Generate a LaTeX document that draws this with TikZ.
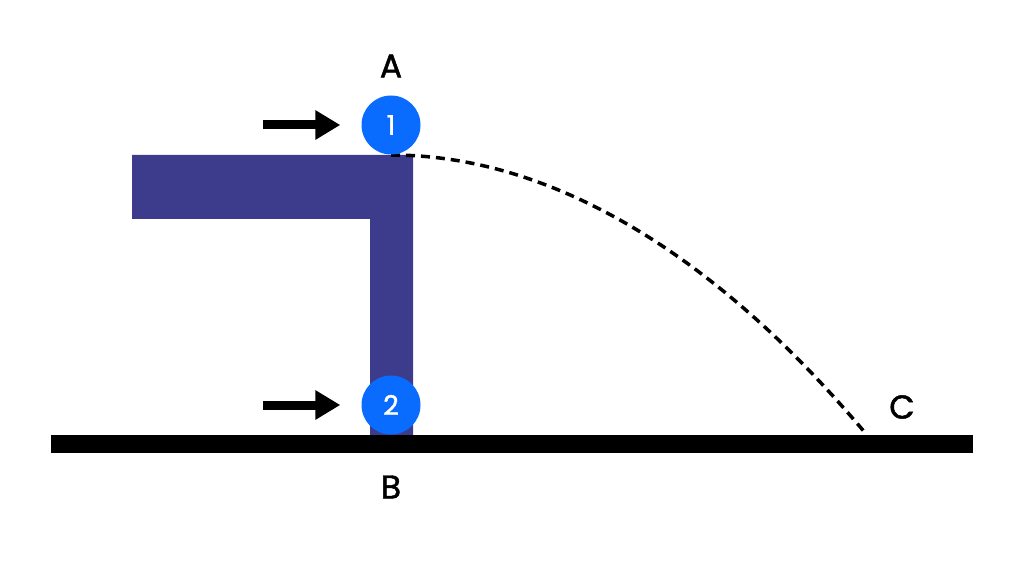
\documentclass[tikz,border=0pt]{standalone}
\usepackage{fontspec}
\setmainfont{Poppins}
\newfontfamily\tagfont{Poppins}[FakeBold=1.4]
\usetikzlibrary{arrows.meta}
\definecolor{frame-blue}{HTML}{3D3B8C}
\definecolor{ball-blue}{HTML}{0A6CFF}

\begin{document}
\begin{tikzpicture}[
    x=1pt, y=1pt,
    ball/.style={
        circle, fill=ball-blue, minimum size=59pt, inner sep=0pt,
        text=white, font=\tagfont\fontsize{27}{30}\selectfont,
    },
    tag/.style={
        font=\tagfont\fontsize{33}{36}\selectfont,
    },
    push/.style={
        -{Triangle[length=25pt,width=28pt]}, line width=9pt,
        shorten >=21pt,
    },
    path/.style={ dashed, dash pattern=on 9pt off 6pt, line width=3.5pt, },
]
\useasboundingbox (0,0) rectangle (1024,576);

% table and floor
\fill[frame-blue] (132,421) -- (413,421) -- (413,141) -- (370,141)
    -- (370,357) -- (132,357) -- cycle;
\fill[black] (51,141) rectangle (973,123);

\coordinate (land) at (867,141);
\draw[path] (391,421) parabola[bend at start] (land);

\node[ball] (ball1) at (391,451) {1};
\node[ball] (ball2) at (391,171) {2};

\coordinate (tail1) at (263,451);
\coordinate (tail2) at (263,171);
\draw[push] (tail1) -- (ball1);
\draw[push] (tail2) -- (ball2);

\node[tag] (A) at (391,510) {A};
\node[tag] (B) at (391,89) {B};
\node[tag] (C) at (902,169) {C};
\end{tikzpicture}
\end{document}
